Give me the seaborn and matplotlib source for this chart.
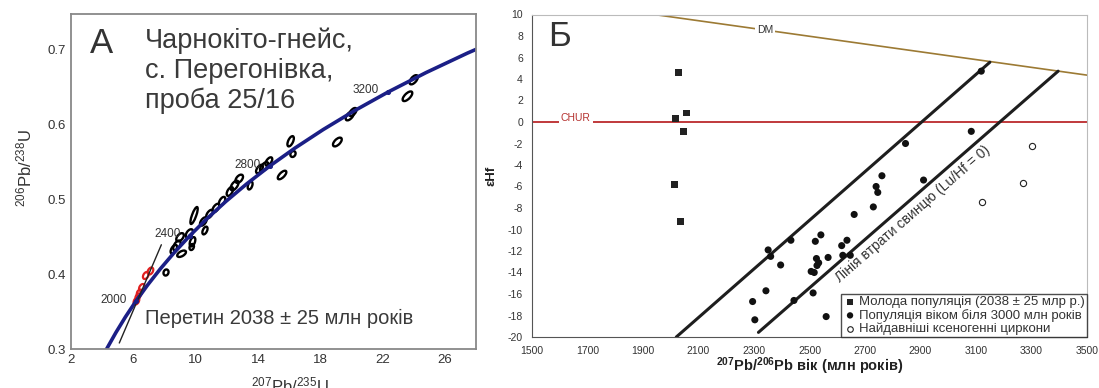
import numpy as np
import pandas as pd
import matplotlib
matplotlib.use('Agg')
import matplotlib.pyplot as plt
import seaborn as sns
from matplotlib.collections import EllipseCollection
from matplotlib.ticker import MultipleLocator, FormatStrFormatter

# ---------- панель А: конкордія ----------
conc_x = [4.20, 4.335, 4.887, 5.496, 6.168, 6.910, 7.729, 8.632, 9.629, 10.729, 11.943,
          13.282, 14.760, 16.391, 18.191, 20.177, 22.368, 24.786, 27.455, 28.03]
conc_y = [0.2968, 0.3018, 0.3221, 0.3428, 0.3638, 0.3851, 0.4067, 0.4287, 0.4511, 0.4738, 0.4968,
          0.5202, 0.5440, 0.5681, 0.5926, 0.6175, 0.6428, 0.6685, 0.6946, 0.6998]

age_labels = ['2000', '2400', '2800', '3200']
age_x = [6.168, 9.629, 14.760, 22.368]
age_y = [0.3638, 0.4511, 0.5440, 0.6428]

disc_x = [5.1, 7.8]
disc_y = [0.308, 0.439]

# еліпси похибок: центр, довга/коротка вісь (pt), кут
blk_x = [24.0, 23.6, 19.9, 20.1, 19.1, 16.1, 16.25, 15.55, 14.7, 14.4, 14.1, 13.5, 12.8, 12.5,
         12.2, 11.7, 11.3, 10.9, 10.5, 10.6, 9.9, 9.6, 9.8, 9.0, 8.8, 8.6, 9.1, 9.75, 8.1]
blk_y = [0.659, 0.637, 0.611, 0.616, 0.576, 0.577, 0.560, 0.532, 0.550, 0.543, 0.540, 0.518, 0.527, 0.518,
         0.510, 0.497, 0.488, 0.480, 0.470, 0.458, 0.478, 0.454, 0.443, 0.449, 0.438, 0.433, 0.427, 0.436, 0.402]
blk_a = [8, 9, 8, 7, 8, 8, 4.5, 8, 7, 8, 7, 6, 7, 8,
         7, 7, 7, 7, 7, 6, 13, 7, 7, 7, 8, 7, 7, 4.5, 4.5]
blk_b = [4, 4, 4, 3.5, 4, 3.5, 3.5, 3.5, 3.5, 4, 3.5, 3, 4, 4,
         3.5, 3.5, 3.5, 3.5, 3.5, 3, 3, 4, 3.5, 4, 4, 3.5, 3.5, 3, 3.5]
blk_ang = [50, 45, 50, 50, 45, 65, 60, 45, 55, 50, 55, 70, 50, 55,
           60, 60, 55, 55, 55, 65, 70, 55, 70, 50, 60, 60, 30, 70, 70]

red_x = [6.2, 6.3, 6.4, 6.55, 6.8, 7.1]
red_y = [0.364, 0.370, 0.375, 0.382, 0.398, 0.404]
red_a = [5.5, 5, 5, 5.5, 5.5, 5.5]
red_b = [3.5, 3, 3.5, 3.5, 3.5, 3.5]
red_ang = [60, 60, 60, 60, 60, 60]

# ---------- панель Б: εHf ----------
sq_age = [2028, 2057, 2018, 2045, 2013, 2036]
sq_hf = [4.6, 0.83, 0.31, -0.87, -5.84, -9.27]

ci_age = [3119, 3083, 2846, 2761, 2911, 2740, 2746, 2730, 2661, 2433, 2541, 2521, 2635, 2616,
          2351, 2360, 2620, 2647, 2567, 2525, 2533, 2527, 2396, 2506, 2517, 2343, 2513, 2295,
          2444, 2560, 2303]
ci_hf = [4.73, -0.87, -2.0, -5.0, -5.4, -6.0, -6.55, -7.9, -8.6, -11.0, -10.5, -11.1, -11.0, -11.5,
         -11.9, -12.5, -12.4, -12.4, -12.6, -12.7, -13.1, -13.35, -13.3, -13.9, -14.0, -15.7, -15.9,
         -16.7, -16.6, -18.1, -18.4]

op_age = [3303, 3271, 3122]
op_hf = [-2.26, -5.7, -7.45]

dm_age = [1940, 3500]
dm_hf = [10.0, 4.36]
loss1_age = [2020, 3150]
loss1_hf = [-20.0, 5.56]
loss2_age = [2316, 3396]
loss2_hf = [-19.57, 4.73]

sns.set_style('white')
plt.rcParams['font.family'] = ['Liberation Sans', 'DejaVu Sans']
plt.rcParams['mathtext.default'] = 'regular'
plt.rcParams['axes.unicode_minus'] = False

W, H = 1099, 388
fig = plt.figure(figsize=(W / 100, H / 100), dpi=100)
ax1 = fig.add_axes([71 / W, 39 / H, 405 / W, 335 / H])
ax2 = fig.add_axes([532 / W, 51 / H, 555 / W, 322.5 / H])

# ---- А ----
conc = pd.DataFrame({'x': conc_x, 'y': conc_y})
sns.lineplot(data=conc, x='x', y='y', ax=ax1, color='#1b1f86', lw=2.6, sort=False)
ax1.plot(disc_x, disc_y, color='#222222', lw=1.0)

ec = EllipseCollection(blk_a, blk_b, blk_ang, units='points',
                       offsets=list(zip(blk_x, blk_y)), offset_transform=ax1.transData,
                       facecolors='none', edgecolors='black', linewidths=1.7)
ax1.add_collection(ec)
ec2 = EllipseCollection(red_a, red_b, red_ang, units='points',
                        offsets=list(zip(red_x, red_y)), offset_transform=ax1.transData,
                        facecolors='none', edgecolors='#e02020', linewidths=1.6)
ax1.add_collection(ec2)

ax1.scatter(age_x, age_y, s=7, color='#1b1f86', zorder=5)
for lab, x, y in zip(age_labels, age_x, age_y):
    ax1.text(x - 0.6, y + 0.002, lab, ha='right', va='center', fontsize=8.5, color='#333333')

ax1.text(3.96, 0.707, 'А', fontsize=25, ha='center', va='center', color='#333333')
for txt, yy in zip(['Чарнокіто-гнейс,', 'с. Перегонівка,', 'проба 25/16'], [0.701, 0.661, 0.622]):
    ax1.text(6.72, yy, txt, fontsize=19.5, ha='left', va='baseline', color='#3a3a3a')
ax1.text(6.72, 0.3334, 'Перетин 2038 ± 25 млн років', fontsize=14.5, ha='left', va='baseline', color='#3a3a3a')

ax1.set_xlim(2, 28)
ax1.set_ylim(0.3, 0.7467)
ax1.set_xticks(np.arange(2, 27, 4))
ax1.xaxis.set_minor_locator(MultipleLocator(2))
ax1.set_yticks(np.arange(0.3, 0.71, 0.1))
ax1.yaxis.set_minor_locator(MultipleLocator(0.05))
ax1.yaxis.set_major_formatter(FormatStrFormatter('%.1f'))
ax1.tick_params(which='both', direction='in', color='#888888', labelcolor='#333333', labelsize=9.5)
ax1.tick_params(which='major', length=3)
ax1.tick_params(which='minor', length=2)
for s in ax1.spines.values():
    s.set_color('#888888')
    s.set_linewidth(1.3)
ax1.set_xlabel(r'$^{207}$Pb/$^{235}$U', fontsize=12, color='#333333')
ax1.xaxis.set_label_coords(0.54, -0.08)
ax1.xaxis.label.set_va('top')
ax1.set_ylabel(r'$^{206}$Pb/$^{238}$U', fontsize=12, color='#333333')
ax1.yaxis.set_label_coords(-0.09, 0.54)

# ---- Б ----
sns.scatterplot(x=sq_age, y=sq_hf, ax=ax2, marker='s', s=24, color='#222222', edgecolor='none',
                label='Молода популяція (2038 ± 25 млр р.)', zorder=5)
sns.scatterplot(x=ci_age, y=ci_hf, ax=ax2, marker='o', s=26, color='#111111', edgecolor='none',
                label='Популяція віком біля 3000 млн років', zorder=5)
sns.scatterplot(x=op_age, y=op_hf, ax=ax2, marker='o', s=20, facecolor='white', edgecolor='#222222',
                linewidth=0.8, label='Найдавніші ксеногенні циркони', zorder=5)

ax2.axhline(0, color='#c0393b', lw=1.4, zorder=2)
ax2.text(1658, 0.35, 'CHUR', fontsize=7.5, color='#b5312f', ha='center', va='center',
         bbox=dict(facecolor='white', edgecolor='none', pad=1.5), zorder=3)
ax2.plot(dm_age, dm_hf, color='#9c7a34', lw=1.2, zorder=2)
ax2.text(2340, 8.55, 'DM', fontsize=7.5, color='#333333', ha='center', va='center',
         bbox=dict(facecolor='white', edgecolor='none', pad=1.5), zorder=3)
ax2.plot(loss1_age, loss1_hf, color='#1e1e1e', lw=2.2, zorder=3)
ax2.plot(loss2_age, loss2_hf, color='#1e1e1e', lw=2.2, zorder=3)

ax2.set_xlim(1500, 3500)
ax2.set_ylim(-20, 10)

p1 = ax2.transData.transform((loss2_age[0], loss2_hf[0]))
p2 = ax2.transData.transform((loss2_age[1], loss2_hf[1]))
ang = np.degrees(np.arctan2(p2[1] - p1[1], p2[0] - p1[0]))
ax2.text(2872, -8.6, 'Лінія втрати свинцю (Lu/Hf = 0)', rotation=ang, rotation_mode='anchor',
         ha='center', va='center', fontsize=10, color='#333333')

ax2.text(1558, 8.0, 'Б', fontsize=25, ha='left', va='center', color='#333333')

ax2.set_xticks(np.arange(1500, 3501, 200))
ax2.xaxis.set_minor_locator(MultipleLocator(50))
ax2.set_yticks(np.arange(-20, 11, 2))
ax2.tick_params(which='both', direction='out', color='#666666', labelcolor='#333333', labelsize=7.5, pad=3)
ax2.tick_params(which='major', length=3.5)
ax2.tick_params(which='minor', length=2)
ax2.spines['left'].set_color('#555555')
ax2.spines['bottom'].set_color('#555555')
ax2.spines['top'].set_color('#bbbbbb')
ax2.spines['right'].set_color('#bbbbbb')
ax2.set_xlabel(r'$^{207}$Pb/$^{206}$Pb вік (млн років)', fontsize=10.5, fontweight='bold', color='#222222')
ax2.set_ylabel('εHf', fontsize=9.5, fontweight='bold', color='#222222')
ax2.yaxis.set_label_coords(-0.062, 0.5)
ax2.xaxis.set_label_coords(0.5, -0.09)
ax2.xaxis.label.set_va('center')

leg = ax2.legend(loc='lower right', borderaxespad=0, fontsize=9.5, frameon=True, fancybox=False,
                 handletextpad=0.2, labelspacing=0.05, borderpad=0.15, handlelength=1.0,
                 markerscale=0.9)
leg.get_frame().set_edgecolor('#222222')
leg.get_frame().set_linewidth(1.0)
for t in leg.get_texts():
    t.set_color('#333333')

fig.savefig('out.png', dpi=100)
